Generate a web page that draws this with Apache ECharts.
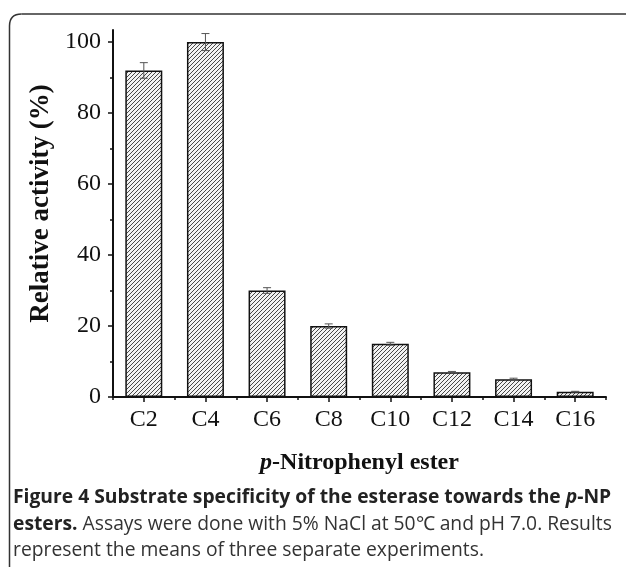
<!DOCTYPE html>
<html><head><meta charset="utf-8">
<script src="https://cdn.jsdelivr.net/npm/echarts@6/dist/echarts.min.js"></script>
<style>html,body{margin:0;padding:0;background:#fff}#c{width:627px;height:569px}</style>
</head><body><div id="c"></div>
<script>
const categories = ['C2','C4','C6','C8','C10','C12','C14','C16'];
const activity = [92, 100, 30, 20, 15, 7, 5, 1.5];
const errors = [2.2, 2.4, 0.8, 0.6, 0.4, 0.2, 0.3, 0.1];
const yMajorTicks = [0, 20, 40, 60, 80, 100];
const yMinorTicks = [10, 30, 50, 70, 90];
const yTop = 103.4;

const pc = document.createElement('canvas'); pc.width = 4; pc.height = 4;
const g = pc.getContext('2d');
g.fillStyle = '#f2f2f2'; g.fillRect(0, 0, 4, 4);
g.strokeStyle = '#333'; g.lineWidth = 0.9;
g.beginPath();
g.moveTo(-1, 5); g.lineTo(5, -1);
g.moveTo(-1, 1); g.lineTo(1, -1);
g.moveTo(3, 5); g.lineTo(5, 3);
g.stroke();

const serif = 'Liberation Serif';
const sans = 'Open Sans';
const capSize = 19.3;
const frameStyle = {stroke: '#333', lineWidth: 1.5, fill: null};
const chart = echarts.init(document.getElementById('c'), null, {renderer: 'canvas'});
chart.setOption({
  animation: false,
  backgroundColor: '#fff',
  grid: {left: 113, right: 21, top: 30, bottom: 172, containLabel: false},
  xAxis: [{
    type: 'category', data: categories, position: 'bottom',
    axisLine: {show: true, lineStyle: {color: '#111', width: 2}},
    axisTick: {show: true, alignWithLabel: true, length: 5, lineStyle: {color: '#111', width: 1.5}},
    axisLabel: {fontFamily: serif, fontSize: 24, color: '#111', margin: 11},
    splitLine: {show: false},
    name: '{i|p}{b|-Nitrophenyl ester}', nameLocation: 'middle', nameGap: 54,
    nameTextStyle: {rich: {
      i: {fontFamily: serif, fontSize: 24, fontWeight: 'bold', fontStyle: 'italic', color: '#111'},
      b: {fontFamily: serif, fontSize: 24, fontWeight: 'bold', color: '#111'}
    }}
  }, {
    type: 'category', data: categories, position: 'bottom',
    axisLine: {show: false},
    axisTick: {show: true, alignWithLabel: false, length: 3, lineStyle: {color: '#111', width: 1.5}},
    axisLabel: {show: false}, splitLine: {show: false}
  }],
  yAxis: [{
    type: 'value', min: 0, max: yTop, position: 'left',
    axisLine: {show: true, lineStyle: {color: '#111', width: 2}},
    axisTick: {show: true, customValues: yMajorTicks, length: 5, lineStyle: {color: '#111', width: 1.5}},
    axisLabel: {customValues: yMajorTicks, fontFamily: serif, fontSize: 24, color: '#111', margin: 12},
    splitLine: {show: false},
    name: 'Relative activity (%)', nameLocation: 'middle', nameGap: 52,
    nameTextStyle: {fontFamily: serif, fontSize: 27, fontWeight: 'bold', color: '#111', padding: [0, 0, 0, 20]}
  }, {
    type: 'value', min: 0, max: yTop, position: 'left',
    axisLine: {show: false},
    axisTick: {show: true, customValues: yMinorTicks, length: 3, lineStyle: {color: '#111', width: 1.5}},
    axisLabel: {show: false}, splitLine: {show: false}
  }],
  series: [{
    type: 'bar', xAxisIndex: 0, yAxisIndex: 0, data: activity, barWidth: '60%',
    itemStyle: {color: {image: pc, repeat: 'repeat'}, borderColor: '#111', borderWidth: 1.5},
    z: 2
  }, {
    type: 'custom', xAxisIndex: 0, yAxisIndex: 0, z: 5,
    data: categories.map((c, i) => [i, activity[i] - errors[i], activity[i] + errors[i]]),
    encode: {x: 0, y: [1, 2]},
    renderItem: function (params, api) {
      const x = api.value(0);
      const lo = api.coord([x, api.value(1)]);
      const hi = api.coord([x, api.value(2)]);
      const hw = 4;
      const st = {stroke: '#555', lineWidth: 1};
      return {type: 'group', children: [
        {type: 'line', shape: {x1: lo[0], y1: lo[1], x2: hi[0], y2: hi[1]}, style: st},
        {type: 'line', shape: {x1: lo[0] - hw, y1: lo[1], x2: lo[0] + hw, y2: lo[1]}, style: st},
        {type: 'line', shape: {x1: hi[0] - hw, y1: hi[1], x2: hi[0] + hw, y2: hi[1]}, style: st}
      ]};
    }
  }],
  graphic: [
    {type: 'line', shape: {x1: 9.5, y1: 567, x2: 9.5, y2: 26}, style: frameStyle},
    {type: 'bezierCurve', shape: {x1: 9.5, y1: 26, x2: 21.5, y2: 14, cpx1: 9.5, cpy1: 14}, style: frameStyle},
    {type: 'line', shape: {x1: 21.5, y1: 14, x2: 626, y2: 14}, style: frameStyle},
    {type: 'text', left: 13, top: 488, style: {
      text: '{b|Figure 4 Substrate specificity of the esterase towards the }{bi|p}{b|-NP}',
      rich: {
        b: {fontFamily: sans, fontSize: capSize, fontWeight: 'bold', fill: '#222'},
        bi: {fontFamily: sans, fontSize: capSize, fontWeight: 'bold', fontStyle: 'italic', fill: '#222'}
      }}},
    {type: 'text', left: 13, top: 515, style: {
      text: '{b|esters.}{r| Assays were done with 5% NaCl at 50℃ and pH 7.0. Results}',
      rich: {
        b: {fontFamily: sans, fontSize: capSize, fontWeight: 'bold', fill: '#222'},
        r: {fontFamily: sans, fontSize: capSize, fill: '#333'}
      }}},
    {type: 'text', left: 13, top: 541, style: {
      text: 'represent the means of three separate experiments.',
      fontFamily: sans, fontSize: capSize, fill: '#333'}}
  ]
});
</script></body></html>
